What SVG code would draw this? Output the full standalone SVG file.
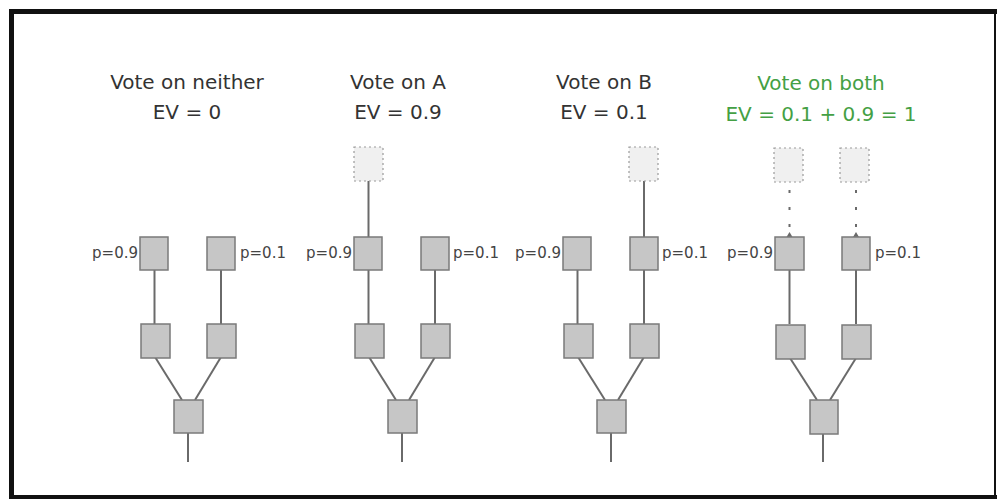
<svg xmlns="http://www.w3.org/2000/svg" width="997" height="499" viewBox="0 0 997 499">
<defs>
<style>
.title{font-family:"DejaVu Sans",sans-serif;font-size:20px;fill:#333;text-anchor:middle}
.green{fill:#44a044}
.lbl{font-family:"DejaVu Sans",sans-serif;font-size:15px;fill:#444}
.box{fill:#c6c6c6;stroke:#7a7a7a;stroke-width:1.5}
.ghost{fill:#f0f0f0;stroke:#9a9a9a;stroke-width:1.2;stroke-dasharray:2,3}
.ln{stroke:#6a6a6a;stroke-width:2;fill:none}
.dot{stroke:#6a6a6a;stroke-width:2;fill:none;stroke-dasharray:3,14}
.frame{fill:#111}
</style>
</defs>
<rect x="0" y="0" width="997" height="499" fill="#ffffff"/>
<rect class="frame" x="9" y="9" width="988" height="5"/>
<rect class="frame" x="9" y="9" width="5" height="490"/>
<rect class="frame" x="9" y="495" width="988" height="4"/>
<rect class="frame" x="994" y="9" width="2" height="490"/>

<g id="connectors">
  <!-- group 1 ox=140 -->
  <line class="ln" x1="154.5" y1="270" x2="154.5" y2="324"/>
  <line class="ln" x1="221" y1="270" x2="221" y2="324"/>
  <line class="ln" x1="155" y1="357" x2="182" y2="400"/>
  <line class="ln" x1="221" y1="357" x2="195" y2="400"/>
  <line class="ln" x1="188" y1="433" x2="188" y2="462"/>
  <!-- group 2 ox=354 -->
  <line class="ln" x1="368.5" y1="181" x2="368.5" y2="237"/>
  <line class="ln" x1="368.5" y1="270" x2="368.5" y2="324"/>
  <line class="ln" x1="435" y1="270" x2="435" y2="324"/>
  <line class="ln" x1="369" y1="357" x2="396" y2="400"/>
  <line class="ln" x1="435" y1="357" x2="409" y2="400"/>
  <line class="ln" x1="402" y1="433" x2="402" y2="462"/>
  <!-- group 3 ox=563 -->
  <line class="ln" x1="644" y1="181" x2="644" y2="237"/>
  <line class="ln" x1="577.5" y1="270" x2="577.5" y2="324"/>
  <line class="ln" x1="644" y1="270" x2="644" y2="324"/>
  <line class="ln" x1="578" y1="357" x2="605" y2="400"/>
  <line class="ln" x1="644" y1="357" x2="618" y2="400"/>
  <line class="ln" x1="611" y1="433" x2="611" y2="462"/>
  <!-- group 4 ox=775 -->
  <line class="dot" x1="789.5" y1="190" x2="789.5" y2="237"/>
  <line class="dot" x1="856" y1="190" x2="856" y2="237"/>
  <path d="M786.5,237 L789.5,232 L792.5,237 Z" fill="#6a6a6a"/>
  <path d="M853,237 L856,232 L859,237 Z" fill="#6a6a6a"/>
  <line class="ln" x1="789.5" y1="270" x2="789.5" y2="324"/>
  <line class="ln" x1="856" y1="270" x2="856" y2="324"/>
  <line class="ln" x1="790" y1="358" x2="817" y2="400"/>
  <line class="ln" x1="856" y1="358" x2="830" y2="400"/>
  <line class="ln" x1="823" y1="434" x2="823" y2="462"/>
</g>

<g id="group-neither">
  <text class="title" x="187" y="89">Vote on neither</text>
  <text class="title" x="187" y="119">EV = 0</text>
  <rect class="box" x="140" y="237" width="28" height="33"/>
  <rect class="box" x="207" y="237" width="28" height="33"/>
  <rect class="box" x="141" y="324" width="29" height="34"/>
  <rect class="box" x="207" y="324" width="29" height="34"/>
  <rect class="box" x="174" y="400" width="29" height="33"/>
  <text class="lbl" x="138" y="258" text-anchor="end">p=0.9</text>
  <text class="lbl" x="240" y="258">p=0.1</text>
</g>

<g id="group-A">
  <text class="title" x="398" y="89">Vote on A</text>
  <text class="title" x="398" y="119">EV = 0.9</text>
  <rect class="ghost" x="354" y="147" width="29" height="34"/>
  <rect class="box" x="354" y="237" width="28" height="33"/>
  <rect class="box" x="421" y="237" width="28" height="33"/>
  <rect class="box" x="355" y="324" width="29" height="34"/>
  <rect class="box" x="421" y="324" width="29" height="34"/>
  <rect class="box" x="388" y="400" width="29" height="33"/>
  <text class="lbl" x="352" y="258" text-anchor="end">p=0.9</text>
  <text class="lbl" x="453" y="258">p=0.1</text>
</g>

<g id="group-B">
  <text class="title" x="604" y="89">Vote on B</text>
  <text class="title" x="604" y="119">EV = 0.1</text>
  <rect class="ghost" x="629" y="147" width="29" height="34"/>
  <rect class="box" x="563" y="237" width="28" height="33"/>
  <rect class="box" x="630" y="237" width="28" height="33"/>
  <rect class="box" x="564" y="324" width="29" height="34"/>
  <rect class="box" x="630" y="324" width="29" height="34"/>
  <rect class="box" x="597" y="400" width="29" height="33"/>
  <text class="lbl" x="561" y="258" text-anchor="end">p=0.9</text>
  <text class="lbl" x="662" y="258">p=0.1</text>
</g>

<g id="group-both">
  <text class="title green" x="821" y="90">Vote on both</text>
  <text class="title green" x="821" y="121">EV = 0.1 + 0.9 = 1</text>
  <rect class="ghost" x="774" y="148" width="29" height="34"/>
  <rect class="ghost" x="840" y="148" width="29" height="34"/>
  <rect class="box" x="775" y="237" width="29" height="33"/>
  <rect class="box" x="842" y="237" width="28" height="33"/>
  <rect class="box" x="776" y="325" width="29" height="34"/>
  <rect class="box" x="842" y="325" width="29" height="34"/>
  <rect class="box" x="810" y="400" width="28" height="34"/>
  <text class="lbl" x="773" y="258" text-anchor="end">p=0.9</text>
  <text class="lbl" x="875" y="258">p=0.1</text>
</g>
</svg>
